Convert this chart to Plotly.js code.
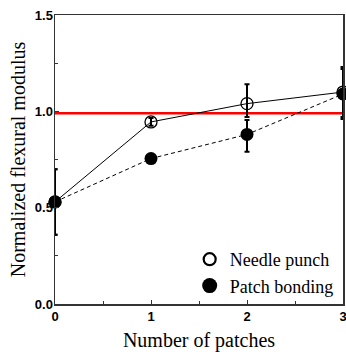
<!DOCTYPE html>
<html>
<head>
<meta charset="utf-8">
<script src="https://cdn.plot.ly/plotly-3.0.1.min.js"></script>
<style>html,body{margin:0;padding:0;background:#fff;}#chart{width:346px;height:352px;}</style>
</head>
<body>
<div id="chart"></div>
<script>
const patches = [0, 1, 2, 3];
const needleValues = [0.53, 0.945, 1.04, 1.10];
const needleErrPlus = [0.17, 0.02, 0.10, 0.13];
const needleErrMinus = [0.17, 0.02, 0.07, 0.13];
const bondingValues = [0.53, 0.755, 0.88, 1.09];
const bondingErrPlus = [0.17, 0.0, 0.075, 0.13];
const bondingErrMinus = [0.17, 0.0, 0.09, 0.13];
const refX = [0, 3];
const refY = [0.99, 0.99];
const xTickVals = [0, 1, 2, 3];
const xTickText = ['0', '1', '2', '3'];
const yTickVals = [0, 0.5, 1.0, 1.5];
const yTickText = ['0.0', '0.5', '1.0', '1.5'];

const SERIF = 'Liberation Serif';
const SANS = 'Liberation Sans';

const traces = [
  {x: refX, y: refY, mode: 'lines', line: {color: '#ff0000', width: 2.5}, showlegend: false, hoverinfo: 'skip', cliponaxis: false},
  {x: patches, y: bondingValues, mode: 'lines+markers', showlegend: false, cliponaxis: false,
   line: {color: '#000', width: 1, dash: '4px,3px'},
   marker: {color: '#000', size: 13, symbol: 'circle'},
   error_y: {type: 'data', symmetric: false, array: bondingErrPlus, arrayminus: bondingErrMinus, color: '#000', thickness: 2, width: 2.5}},
  {x: patches, y: needleValues, mode: 'lines+markers', showlegend: false, cliponaxis: false,
   line: {color: '#000', width: 1},
   marker: {color: 'rgba(255,255,255,0)', size: 12, symbol: 'circle', line: {color: '#000', width: 1.3}},
   error_y: {type: 'data', symmetric: false, array: needleErrPlus, arrayminus: needleErrMinus, color: '#000', thickness: 2, width: 2.5}},
  {x: [null], y: [null], mode: 'markers', name: 'Needle punch', legendgroup: 'a',
   marker: {color: '#fff', size: 12, symbol: 'circle', line: {color: '#000', width: 2.2}}},
  {x: [null], y: [null], mode: 'markers', name: 'Patch bonding', legendgroup: 'b',
   marker: {color: '#000', size: 15, symbol: 'circle'}}
];

const axisCommon = {
  showgrid: false, zeroline: false, showline: true, mirror: true,
  linecolor: '#333', linewidth: 1.5,
  ticks: 'inside', ticklen: 4, tickcolor: '#333', tickwidth: 1,
  ticklabeloverflow: 'allow',
  tickfont: {family: SANS, size: 13, color: '#000', weight: 'bold'}
};

const layout = {
  width: 346, height: 352,
  margin: {l: 55, r: 3, t: 15, b: 48},
  paper_bgcolor: '#fff', plot_bgcolor: '#fff',
  showlegend: true,
  legend: {x: 0.985, y: 0.0, xanchor: 'right', yanchor: 'bottom', bgcolor: 'rgba(255,255,255,0)',
    font: {family: SERIF, size: 18, color: '#000'},
    itemsizing: 'trace', traceorder: 'grouped', tracegroupgap: 0},
  xaxis: Object.assign({}, axisCommon, {
    range: [0, 3], tickmode: 'array', tickvals: xTickVals, ticktext: xTickText,
    minor: {ticks: 'inside', ticklen: 3, tickcolor: '#333', tickvals: [0.5, 1.5, 2.5]},
    title: {text: 'Number of patches', standoff: 12, font: {family: SERIF, size: 20, color: '#000'}}
  }),
  yaxis: Object.assign({}, axisCommon, {
    range: [0, 1.5], tickmode: 'array', tickvals: yTickVals, ticktext: yTickText,
    ticklabelstandoff: -2,
    minor: {ticks: 'inside', ticklen: 3, tickcolor: '#333', tickvals: [0.25, 0.75, 1.25]},
    title: {text: 'Normalized flexural modulus', standoff: 4, font: {family: SERIF, size: 20, color: '#000'}}
  })
};

Plotly.newPlot('chart', traces, layout, {displayModeBar: false, staticPlot: true});
</script>
</body>
</html>
